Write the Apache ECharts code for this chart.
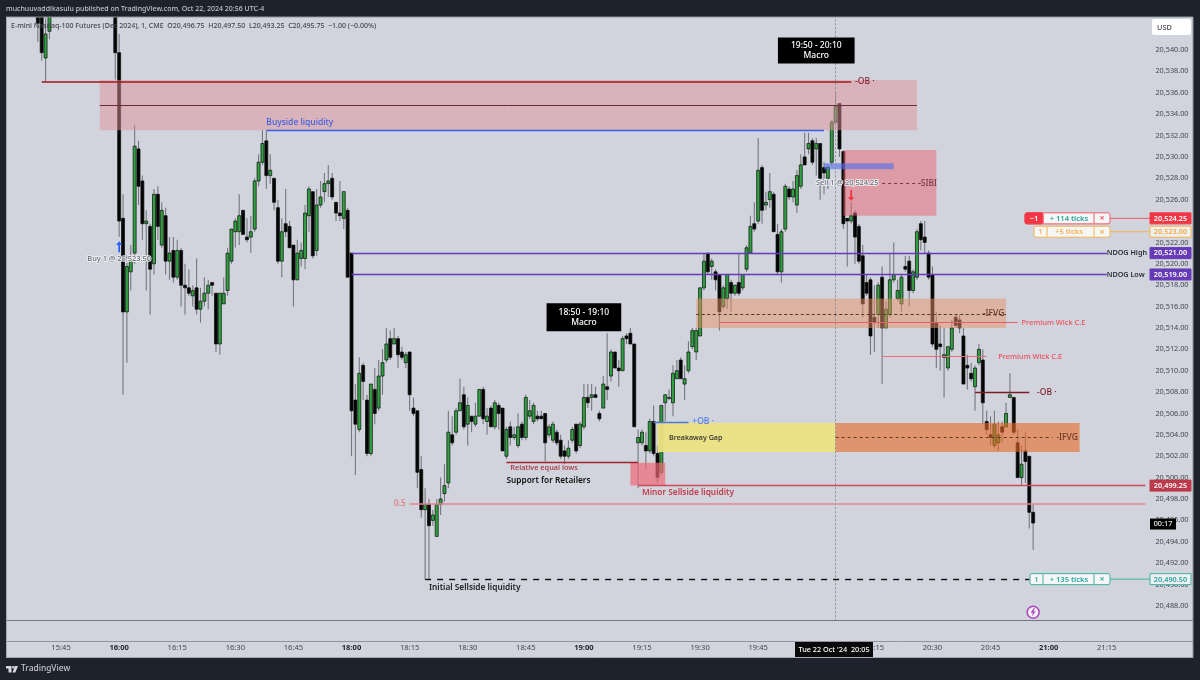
<!DOCTYPE html>
<html>
<head>
<meta charset="utf-8">
<script src="https://cdn.jsdelivr.net/npm/echarts@6/dist/echarts.min.js"></script>
<style>html,body{margin:0;padding:0;background:#1e222d}#main{width:1200px;height:680px}</style>
</head>
<body>
<div id="main"></div>
<script>
// [open, close, low, high], one row per minute from the start time
const bars1539 = [
  [20547,20542.5,20540.75,20548],[20545,20539.75,20539,20546],[20539.25,20541.5,20537,20543],[20541.75,20544,20541,20545]
];
const bars1559 = [[20545,20539.75,20537.25,20546]];
const bars16 = [
  [20539.75,20524,20522.5,20541.5],[20524.25,20515.5,20507.75,20526.5],[20515.5,20519.75,20510.75,20520.75],[20519.25,20520.25,20517.5,20521.75],
  [20521,20531,20520,20533],[20530.75,20527.25,20525.5,20531.5],[20527.75,20523.75,20522.25,20528.25],[20523.75,20524,20517.5,20525],
  [20523.5,20519.5,20515.25,20523.75],[20520,20526.5,20519,20527],[20526.5,20523.5,20522.25,20527.25],[20521.75,20525,20521.5,20525.75],
  [20524.5,20520.25,20519,20525.25],[20520.25,20521,20518.5,20522.5],[20521.25,20518.75,20518.25,20522.5],[20518.75,20521.25,20518.5,20522.25],
  [20521.25,20518,20516,20521.5],[20518,20517.75,20515.25,20520],[20517.75,20517.25,20517,20519.5],[20517,20517.5,20516,20518],
  [20517.75,20515.75,20515.25,20520.5],[20515.75,20516.5,20514.5,20517.75],[20516.5,20517.25,20516,20518.75],[20517.25,20518,20515.75,20518.5],
  [20518.25,20518,20517,20518.25],[20517.25,20512.5,20511.75,20517.25],[20512.5,20517.25,20511.5,20517.25],[20516.25,20517.25,20516.25,20518.75],
  [20517.5,20521,20517,20521.5],[20520.25,20523.25,20520,20523.25],[20523,20524,20521.5,20524.25],[20523,20524.5,20521.75,20526.5],
  [20525,20522.75,20522.75,20525],[20522.5,20522.25,20522,20524.25],[20522.5,20523,20521,20524.5],[20523.25,20527.75,20523,20528],
  [20527.75,20529.5,20527.25,20530.25],[20529.5,20531.25,20529.25,20532.5],[20531.5,20528.25,20527,20532.5],[20528.25,20528.75,20527.5,20530.25],
  [20528,20525.75,20525,20528],[20525.25,20520.25,20520,20526],[20520.25,20523,20518.75,20524.25],[20523.75,20523,20522.5,20527],
  [20523.5,20521.5,20521.5,20524],[20521.75,20518.5,20516,20521.75],[20518.5,20521,20518.5,20522.25],[20520.5,20521.25,20519.75,20522],
  [20520.5,20524.75,20519.5,20525.5],[20524.5,20527,20523,20527.25],[20526.75,20520.75,20520.5,20526.75],[20521.25,20525.5,20520.75,20527],
  [20525.5,20526.25,20525.25,20527.75],[20526.75,20527.5,20525.75,20528.5],[20527.5,20527.75,20526.25,20529.25],[20528,20526.25,20526,20528.5],
  [20525.75,20524.75,20524,20525.75],[20524.75,20524.5,20524,20527.75],[20524.25,20526.75,20523.25,20526.75],[20525,20518.75,20518.75,20525.25]
];
const bars18 = [
  [20521,20506.25,20502,20521],[20507.25,20505,20500.25,20508.75],[20504.5,20509.75,20504.25,20511.25],[20510.5,20509,20507.25,20510.75],
  [20507.25,20502.25,20502,20507.75],[20502.25,20508.75,20502,20508.75],[20508.25,20506,20505,20510.25],[20506.5,20509.5,20506.25,20511],
  [20509.5,20510.75,20507.75,20512],[20511,20512.5,20510.75,20514],[20513,20511.25,20511,20513.75],[20512.5,20513,20512.5,20514],
  [20513,20511.5,20510.25,20513.25],[20511.75,20511.25,20511,20512.25],[20510.75,20511.5,20510.25,20511.75],[20511.75,20507.75,20506.25,20511.75],
  [20506.5,20506,20505.75,20507.5],[20506.25,20500.5,20499,20506.25],[20500.75,20497,20496.25,20502],[20497,20497.5,20490.5,20499],
  [20497.5,20495.5,20490.5,20498],[20496,20496.5,20495.5,20497],[20494.5,20497.5,20494.5,20498],[20497.5,20498,20496.5,20500],
  [20498.5,20499.25,20497.75,20501.25],[20499.5,20504.25,20499,20506.25],[20504,20503.25,20503,20505.75],[20504.25,20506.25,20504,20506.5],
  [20506.25,20507,20506.25,20509.25],[20507.75,20504.75,20504.5,20508.5],[20505,20506.75,20503,20507.5],[20505.75,20505.25,20504.25,20505.75],
  [20505,20505.75,20504.75,20507],[20505.75,20508.25,20505.75,20508.25],[20508.25,20505.5,20505,20508.5],[20505.25,20505.75,20504,20506.5],
  [20506.5,20504.75,20504.75,20506.75],[20504.75,20507,20504.5,20507.25],[20506.75,20506,20504.5,20507],[20506.5,20502.5,20502.5,20506.5],
  [20502,20504.5,20501.75,20504.75],[20504.75,20503.75,20503,20505.25],[20503.75,20504,20503.5,20504.75],[20503,20504.75,20502.75,20506],
  [20505,20503.75,20503.5,20505.25],[20503.75,20507.5,20503.5,20507.75],[20505.75,20506.25,20505.5,20507.25],[20505.25,20506.75,20505,20507],
  [20505.75,20505.5,20505.25,20506.25],[20505.75,20505.5,20505.5,20506.25],[20506,20503.25,20501.5,20506],[20504,20504.75,20503.75,20505],
  [20503.5,20505,20503.25,20505.25],[20504.25,20503.25,20503,20504.5],[20503.5,20502,20501.75,20504],[20502.5,20502,20501.25,20503],
  [20502,20502.75,20501.75,20503.5],[20503.5,20504.5,20503.25,20504.75],[20505,20502.5,20502.25,20505],[20503,20505,20502.75,20505.25]
];
const bars19 = [
  [20504.75,20507.5,20504.5,20508.75],[20507.5,20507,20506.5,20508.75],[20507.5,20507.75,20506.25,20508.75],[20507.75,20507.5,20507.5,20508.5],
  [20506,20505.5,20505.25,20506.25],[20506.5,20508.75,20506.5,20509.5],[20508.5,20508.25,20507.25,20513.5],[20509.5,20511.75,20509,20512],
  [20511.75,20510.25,20510.25,20511.75],[20510.25,20510,20508.5,20511],[20510,20513,20510,20513.25],[20513.25,20513,20512.5,20513.5],
  [20513.5,20512.5,20512.5,20514],[20512.5,20504.75,20504.75,20512.5],[20503.25,20503.75,20499,20504.5],[20503.25,20504.25,20503,20504.5],
  [20503,20502.5,20500.75,20504.25],[20502.5,20505.25,20502.25,20505.5],[20505.25,20502.25,20502,20506.75],[20502.25,20500,20499.5,20503],
  [20500.5,20506.75,20500.25,20506.75],[20507,20507.75,20505.25,20507.75],[20507.5,20507.5,20507.25,20508.25],[20507,20509.75,20505.75,20510.5],
  [20509.25,20510,20509.25,20511],[20511,20509.25,20509.25,20511.25],[20508.75,20509.25,20507.25,20510.5],[20510,20511.75,20509.75,20512.75],
  [20512.25,20513.75,20512,20514],[20511.75,20513.75,20511,20514],[20513.25,20517.75,20513.25,20517.75],[20517.75,20520.25,20517.5,20521],
  [20521,20519.25,20519,20521],[20519.75,20520.25,20518.5,20520.5],[20519.25,20518.5,20517.5,20519.5],[20519,20515.5,20513.75,20519],
  [20516,20517.75,20515.75,20518],[20516.75,20519,20515.75,20519],[20518.25,20517.25,20515.5,20518.5],[20517.25,20518,20517,20518],
  [20518.25,20517.25,20517,20521],[20517.75,20519,20517.5,20519],[20519.5,20521.5,20519.25,20521.75],[20521,20523.5,20521,20524.5],
  [20523.75,20523.25,20523,20525.75],[20524,20528.75,20523.75,20531.75],[20529,20525,20523.75,20529.25],[20525.5,20525.75,20525,20526.75],
  [20526,20526.75,20525.25,20528.5],[20526.5,20523,20523,20526.75],[20522.75,20519.25,20519,20523.75],[20519.25,20523,20518.25,20523.25],
  [20523.25,20527.25,20523,20527.5],[20527,20526.25,20526,20527.25],[20526.25,20527,20525.75,20527.75],[20525.5,20528.25,20524.75,20528.75],
  [20527.25,20529.25,20527,20530.25],[20530,20529.25,20529.25,20532.25],[20530.75,20531.25,20530.25,20532.25],[20531.5,20529.5,20529.25,20531.75]
];
const bars20 = [
  [20530.75,20531.25,20528.25,20531.75],[20531.25,20528,20526,20531.25],[20529,20528.5,20526.5,20529.5],[20528,20529,20527,20529.25],
  [20529.5,20533.25,20529.25,20533.5],[20533.25,20534.75,20533,20536],[20535,20530.75,20530,20535],[20530.5,20523.75,20523.25,20530.5],
  [20524.25,20524,20519.75,20524.25],[20524,20524.5,20523.75,20525.75],[20524.75,20522.5,20520,20525],[20523.5,20520.25,20520,20523.75],
  [20520.75,20516.25,20515,20521.75],[20518.25,20517.25,20517,20519],[20518.5,20513.25,20511.5,20518.75],[20515,20514.5,20511.75,20518],
  [20515.25,20518,20514,20518.25],[20518.75,20514,20508.75,20519.75],[20514,20515.75,20514,20516.5],[20515.25,20518.5,20515,20521],
  [20518.5,20519,20518.25,20522],[20516.75,20517.5,20516.5,20518.5],[20516.25,20518.75,20515.5,20519],[20519.75,20519.5,20519.25,20520.75],
  [20520.25,20517.5,20516,20520.75],[20517.5,20519.25,20517.25,20519.5],[20518.75,20523,20518.5,20523.25],[20523.75,20522.25,20521.25,20524],
  [20522.5,20522,20521,20524],[20521,20518.75,20518.5,20521.25],[20519,20512.5,20512.25,20519.75],[20514.5,20512,20510.25,20515.5],
  [20512.5,20512.25,20510,20514.25],[20511.25,20511.5,20507.5,20514],[20510.25,20512.25,20510,20512.25],[20512,20514,20511.75,20514.75],
  [20515,20514.25,20514,20515.25],[20514.75,20514,20513.5,20515.25],[20513.25,20508.75,20508.75,20514],[20510.5,20510.25,20508.25,20511.5],
  [20509.75,20509.25,20509,20510.75],[20508.5,20510.25,20506.25,20510.5],[20510.75,20512,20510.5,20512.5],[20511,20507,20505,20512],
  [20505.25,20504.5,20504,20506.25],[20504,20503.75,20503,20505.75],[20503,20505,20502.75,20506.25],[20503.25,20504,20502.5,20505.25],
  [20504.75,20504.25,20503.25,20505.25],[20504.75,20506,20504.75,20507],[20507.5,20507.75,20507.5,20509.75],[20507.5,20504.25,20504,20507.5],
  [20503.25,20500,20500,20504.5],[20500,20501.25,20499.25,20503],[20502.5,20501.5,20499.5,20504.25],[20502,20496.75,20495.25,20502],
  [20496.75,20495.75,20493.25,20497.5]
];
const boldTimes = ['16:00', '18:00', '19:00', '21:00'];
const hiddenTimes = ['20:00'];

// minute labels, the market is shut 17:00-18:00
const hhmm = m => String(Math.floor(m / 60)).padStart(2, '0') + ':' + String(m % 60).padStart(2, '0');
const categories = [];
for (let m = 15 * 60 + 31; m < 17 * 60; m++) categories.push(hhmm(m));
for (let m = 18 * 60; m <= 21 * 60 + 25; m++) categories.push(hhmm(m));

const candles = [];
const place = (start, rows) => {
  let i = categories.indexOf(start);
  rows.forEach(r => { candles.push([i++, r[0], r[1], r[2], r[3]]); });
};
place('15:39', bars1539);
place('15:59', bars1559);
place('16:00', bars16);
place('18:00', bars18);
place('19:00', bars19);
place('20:00', bars20);

const FONT = '"Noto Sans"';
const PANE = '#d1d4dc';
const DARK = '#1e222d';

function zone(t1, t2, p1, p2, color) {
  return [{ xAxis: t1, yAxis: p1, itemStyle: { color: color } }, { xAxis: t2, yAxis: p2 }];
}
function level(t1, t2, p, color, width, type, p2) {
  return [{ coord: [t1, p], lineStyle: { color: color, width: width || 1, type: type || 'solid', opacity: 1 } }, { coord: [t2, p2 === undefined ? p : p2] }];
}
function note(t, p, text, color, size, extra) {
  return {
    coord: [t, p], symbol: 'circle', symbolSize: 0,
    label: Object.assign({ show: true, position: 'inside', formatter: text, color: color, fontSize: size || 8.5,
      fontFamily: FONT, fontWeight: 500, align: 'left', verticalAlign: 'middle' }, extra || {})
  };
}
const fillHalo = { align: 'center', textBorderColor: '#f1f2f5', textBorderWidth: 1.6 };

const chart = echarts.init(document.getElementById('main'));
chart.setOption({
  animation: false,
  backgroundColor: PANE,
  grid: { left: 4.9, width: 1142.5, top: 7.24, height: 620.02 },
  xAxis: {
    type: 'category', data: categories, boundaryGap: true,
    axisLine: { show: false }, axisTick: { show: false }, splitLine: { show: false },
    axisLabel: {
      margin: 17, color: '#434651', fontFamily: FONT, fontSize: 7.6, hideOverlap: false,
      interval: (i, v) => Number(v.slice(3)) % 15 === 0 && !hiddenTimes.includes(v),
      formatter: v => boldTimes.includes(v) ? '{b|' + v + '}' : v,
      rich: { b: { fontFamily: FONT, fontSize: 7.6, fontWeight: 700, color: '#1e222d' } }
    }
  },
  yAxis: {
    type: 'value', position: 'right', min: 20486, max: 20544, interval: 2, scale: true,
    axisLine: { show: false }, axisTick: { show: false }, splitLine: { show: false },
    axisLabel: {
      margin: 8, color: '#434651', fontFamily: FONT, fontSize: 7.3, align: 'left',
      formatter: v => (v < 20488 || v > 20540) ? '' : v.toLocaleString('en-US', { minimumFractionDigits: 2 })
    }
  },
  series: [
    {
      name: 'E-mini Nasdaq-100', type: 'custom', z: 3, clip: true,
      encode: { x: 0, y: [1, 2, 3, 4] }, data: candles,
      renderItem: (params, api) => {
        const i = api.value(0), o = api.value(1), c = api.value(2);
        const x = api.coord([i, o])[0];
        const yO = api.coord([i, o])[1], yC = api.coord([i, c])[1];
        const yL = api.coord([i, api.value(3)])[1], yH = api.coord([i, api.value(4)])[1];
        const top = Math.min(yO, yC), h = Math.max(Math.abs(yO - yC), 1);
        return {
          type: 'group',
          children: [
            { type: 'line', shape: { x1: x, y1: yH, x2: x, y2: yL }, style: { stroke: '#74777f', lineWidth: 1.1 } },
            { type: 'rect', shape: { x: x - 1.5, y: top, width: 3, height: h },
              style: { fill: c >= o ? '#2fa33f' : '#050505', stroke: '#0a0a0a', lineWidth: 0.7 } }
          ]
        };
      }
    },
    {
      name: 'Zones', type: 'line', data: [], z: 5,
      markArea: {
        silent: true, z: 5,
        data: [
          zone('15:55', '20:26', 20537.2, 20532.5, 'rgba(225,146,154,0.5)'),
          zone('20:07', '20:31', 20530.65, 20524.5, 'rgba(233,98,112,0.5)'),
          zone('19:29', '20:49', 20516.75, 20514, 'rgba(231,144,100,0.5)'),
          zone('19:19', '20:05', 20505.1, 20502.4, 'rgba(236,226,130,0.95)'),
          zone('20:05', '21:08', 20505.1, 20502.4, 'rgba(234,105,37,0.6)'),
          zone('19:12', '19:21', 20501.4, 20499.25, 'rgba(238,106,120,0.7)'),
          zone('20:02', '20:20', 20529.4, 20528.85, 'rgba(80,110,235,0.6)')
        ]
      }
    },
    {
      name: 'Levels', type: 'line', data: [], z: 6,
      markLine: {
        silent: true, z: 6, symbol: ['none', 'none'], symbolSize: 0, label: { show: false },
        data: [
          level('20:05', '20:05', 20544, '#8a8d95', 1, [2, 2], 20486.66),
          level('15:40', '20:09', 20537.05, '#a5161f', 1.5),
          level('15:55', '20:26', 20534.85, '#6b2c33', 1),
          level('16:38', '20:02', 20532.5, '#3a5ee8', 1.4),
          level('20:17', '20:27', 20527.55, '#7a3844', 1, [3, 3]),
          level('18:00', '21:15', 20521.02, '#673ab7', 1.4),
          level('18:00', '21:15', 20519, '#673ab7', 1.4),
          level('19:29', '20:49', 20515.3, '#4a3a30', 1, [3, 2.5]),
          level('19:35', '20:52', 20514.5, '#ef5a68', 1.2),
          level('20:17', '20:44', 20511.32, '#ef6a78', 1.2),
          level('20:41', '20:55', 20508, '#7c1c26', 1.4),
          level('19:18', '19:27', 20505.2, '#4a78e0', 1.4),
          level('20:05', '21:01', 20503.75, '#5c3a28', 1, [3, 3]),
          level('18:40', '19:14', 20501.4, '#a5232e', 1.3),
          level('19:14', '21:25', 20499.3, '#d04a58', 1.4),
          level('18:15', '21:25', 20497.6, '#e58490', 1.6),
          level('18:19', '20:55', 20490.5, '#0c0c0c', 1.4, [6, 6])
        ]
      }
    },
    {
      name: 'Notes', type: 'line', data: [], z: 7,
      markPoint: {
        silent: true, z: 7,
        data: [
          note('16:38', 20533.2, 'Buyside liquidity', '#3f5de0', 8.5),
          note('20:10', 20537.05, '-OB ·', '#8c1f28', 8.5),
          note('20:27', 20527.55, 'SIBI', '#7a3844', 8.5),
          note('20:43', 20515.3, '-IFVG', '#6b3a2a', 8.5),
          note('20:53', 20514.5, 'Premium Wick C.E', '#ef4f5e', 7.4),
          note('20:47', 20511.3, 'Premium Wick C.E', '#ef4f5e', 7.4),
          note('20:57', 20508, '-OB ·', '#7c1c26', 8.5),
          note('21:02', 20503.75, '-IFVG', '#6b3a2a', 8.5),
          note('19:28', 20505.2, '+OB ·', '#4a78e0', 8.5),
          note('19:22', 20503.7, 'Breakaway Gap', '#2a2a2a', 7.2),
          note('18:41', 20500.9, 'Relative equal lows', '#a5303c', 7.4),
          note('18:40', 20499.75, 'Support for Retailers', '#111', 8.3, { fontWeight: 600 }),
          note('19:15', 20498.55, 'Minor Sellside liquidity', '#c23a4a', 8.3, { fontWeight: 600 }),
          note('18:20', 20489.75, 'Initial Sellside liquidity', '#222', 8.3, { fontWeight: 600 }),
          note('18:11', 20497.6, '0.5', '#e57373', 8),
          note('21:15', 20521, 'NDOG High', '#2a2e39', 7.2, { fontWeight: 600 }),
          note('21:15', 20519, 'NDOG Low', '#2a2e39', 7.2, { fontWeight: 600 }),
          note('16:00', 20520.45, 'Buy 1 @ 20,523.50', '#666971', 7.4, fillHalo),
          note('20:08', 20527.55, 'Sell 1 @ 20,524.25', '#666971', 7.4, fillHalo),
          note('20:00', 20539.95, '19:50 - 20:10\nMacro', '#fff', 8.5, { align: 'center', backgroundColor: '#000', padding: [3, 13], lineHeight: 10 }),
          note('19:00', 20515, '18:50 - 19:10\nMacro', '#fff', 8.5, { align: 'center', backgroundColor: '#000', padding: [4, 12], lineHeight: 10 }),
          { coord: ['16:00', 20521.6], symbol: 'path://M5 0L10 5H6.5V14H3.5V5H0Z', symbolSize: [6, 11], itemStyle: { color: '#2962ff' } },
          { coord: ['20:09', 20526.4], symbol: 'path://M3.5 0H6.5V9H10L5 14L0 9H3.5Z', symbolSize: [6, 11], itemStyle: { color: '#f23645' } },
          { coord: ['20:56', 20487.4], symbol: 'circle', symbolSize: 12,
            itemStyle: { color: '#f4eef6', borderColor: '#ab47bc', borderWidth: 1.5 }, label: { show: false } },
          { coord: ['20:56', 20487.4], symbol: 'path://M6 0L1 8H4.5L3 14L9 5.5H5.5L8 0Z', symbolSize: [5, 8],
            itemStyle: { color: '#ab47bc' }, label: { show: false } }
        ]
      }
    }
  ]
});

// frame, tags and order tickets sit on top of the chart, at the axis's own prices
const yOf = p => chart.convertToPixel({ yAxisIndex: 0 }, p);
const g = [];
const box = (x, y, w, h, fill, stroke, r) => g.push({ type: 'rect', z: 50, shape: { x: x, y: y, width: w, height: h, r: r || 0 },
  style: { fill: fill, stroke: stroke || null, lineWidth: stroke ? 1 : 0 } });
const txt = (x, y, s, color, size, align, weight) => g.push({ type: 'text', z: 60, x: x, y: y,
  style: { text: s, fill: color, font: (weight || 500) + ' ' + size + 'px ' + FONT, textAlign: align || 'left', textVerticalAlign: 'middle' } });
const hline = (x1, x2, y, color, w) => g.push({ type: 'line', z: 55, shape: { x1: x1, y1: y, x2: x2, y2: y }, style: { stroke: color, lineWidth: w || 1 } });
const vline = (x, y1, y2, color) => g.push({ type: 'line', z: 56, shape: { x1: x, y1: y1, x2: x, y2: y2 }, style: { stroke: color, lineWidth: 1 } });

box(0, 0, 1200, 17, DARK);
box(0, 0, 6, 680, DARK);
box(1193, 0, 7, 680, DARK);
box(0, 658, 1200, 22, DARK);
hline(6, 1193, 17, '#8f939c');
vline(6.5, 17, 658, '#a6a9b2');
hline(6, 1193, 620.5, '#74777f', 1.2);
hline(6, 1193, 641.5, '#8f939c', 1);
hline(6, 1193, 657.5, '#a6a9b2', 1);
vline(1193, 17, 658, '#8f939c');

txt(6, 9, 'muchuuvaddikasulu published on TradingView.com, Oct 22, 2024 20:56 UTC-4', '#c4c6cd', 7);
txt(11, 26, 'E-mini Nasdaq-100 Futures (Dec 2024), 1, CME  O20,496.75  H20,497.50  L20,493.25  C20,495.75  −1.00 (−0.00%)', '#434651', 7);
txt(21, 669, 'TradingView', '#c4c6cd', 8.4);
g.push({ type: 'polygon', z: 60, shape: { points: [[6, 666], [11.5, 666], [11.5, 672.5], [8.5, 672.5], [8.5, 668.4], [6, 668.4]] }, style: { fill: '#d8dae0' } });
g.push({ type: 'circle', z: 60, shape: { cx: 13.3, cy: 667.2, r: 1.2 }, style: { fill: '#d8dae0' } });
g.push({ type: 'polygon', z: 60, shape: { points: [[15, 666], [18, 666], [15.3, 672.5], [12.5, 672.5]] }, style: { fill: '#d8dae0' } });

box(1152, 19, 39, 16, '#fff', null, 2);
txt(1157, 27.5, 'USD', '#434651', 7.3);

const tag = (p, fill, stroke, color) => {
  const y = yOf(p);
  box(1150, y - 5.5, 41, 11, fill, stroke);
  txt(1170.5, y + 0.3, p.toLocaleString('en-US', { minimumFractionDigits: 2 }), color, 7.3, 'center', 600);
};
const ticket = (p, x, qty, ticks, color, qtyFill) => {
  const y = yOf(p);
  hline(1110, 1150, y, color, 1);
  box(x, y - 5.5, 1110 - x, 11, '#f6f7f9', color, 2);
  if (qtyFill) box(x, y - 5.5, 18, 11, qtyFill, qtyFill, 2);
  txt(x + (qtyFill ? 9 : 6.5), y + 0.3, qty, qtyFill ? '#fff' : color, 7.6, 'center', 600);
  vline(x + (qtyFill ? 18 : 13), y - 5, y + 5, color);
  vline(1094, y - 5, y + 5, color);
  txt(1069, y + 0.3, ticks, p === 20523 ? color : '#26a69a', 7.6, 'center', 600);
  txt(1102, y + 0.3, '×', color, 9, 'center', 700);
};
ticket(20524.25, 1025, '−1', '+ 114 ticks', '#f25a68', '#f23645');
ticket(20523, 1034, '1', '+5 ticks', '#f7b04d');
ticket(20490.5, 1030, '1', '+ 135 ticks', '#3fb0a0');
tag(20524.25, '#f23645', '#f23645', '#fff');
tag(20523, '#eef0f4', '#f7b04d', '#f7a83a');
tag(20521, '#673ab7', '#673ab7', '#fff');
tag(20519, '#673ab7', '#673ab7', '#fff');
tag(20499.25, '#bd3a4a', '#bd3a4a', '#fff');
tag(20490.5, '#eef0f4', '#3fb0a0', '#26a69a');
box(1150, yOf(20495.75) - 4.5, 26, 11, '#000');
txt(1163, yOf(20495.75) + 1, '00:17', '#eee', 7.3, 'center', 500);
box(795, 642, 78, 15, '#0a0a0a');
txt(834, 649.5, "Tue 22 Oct '24  20:05", '#fff', 7.3, 'center', 500);
chart.setOption({ graphic: { elements: g } });
</script>
</body>
</html>
